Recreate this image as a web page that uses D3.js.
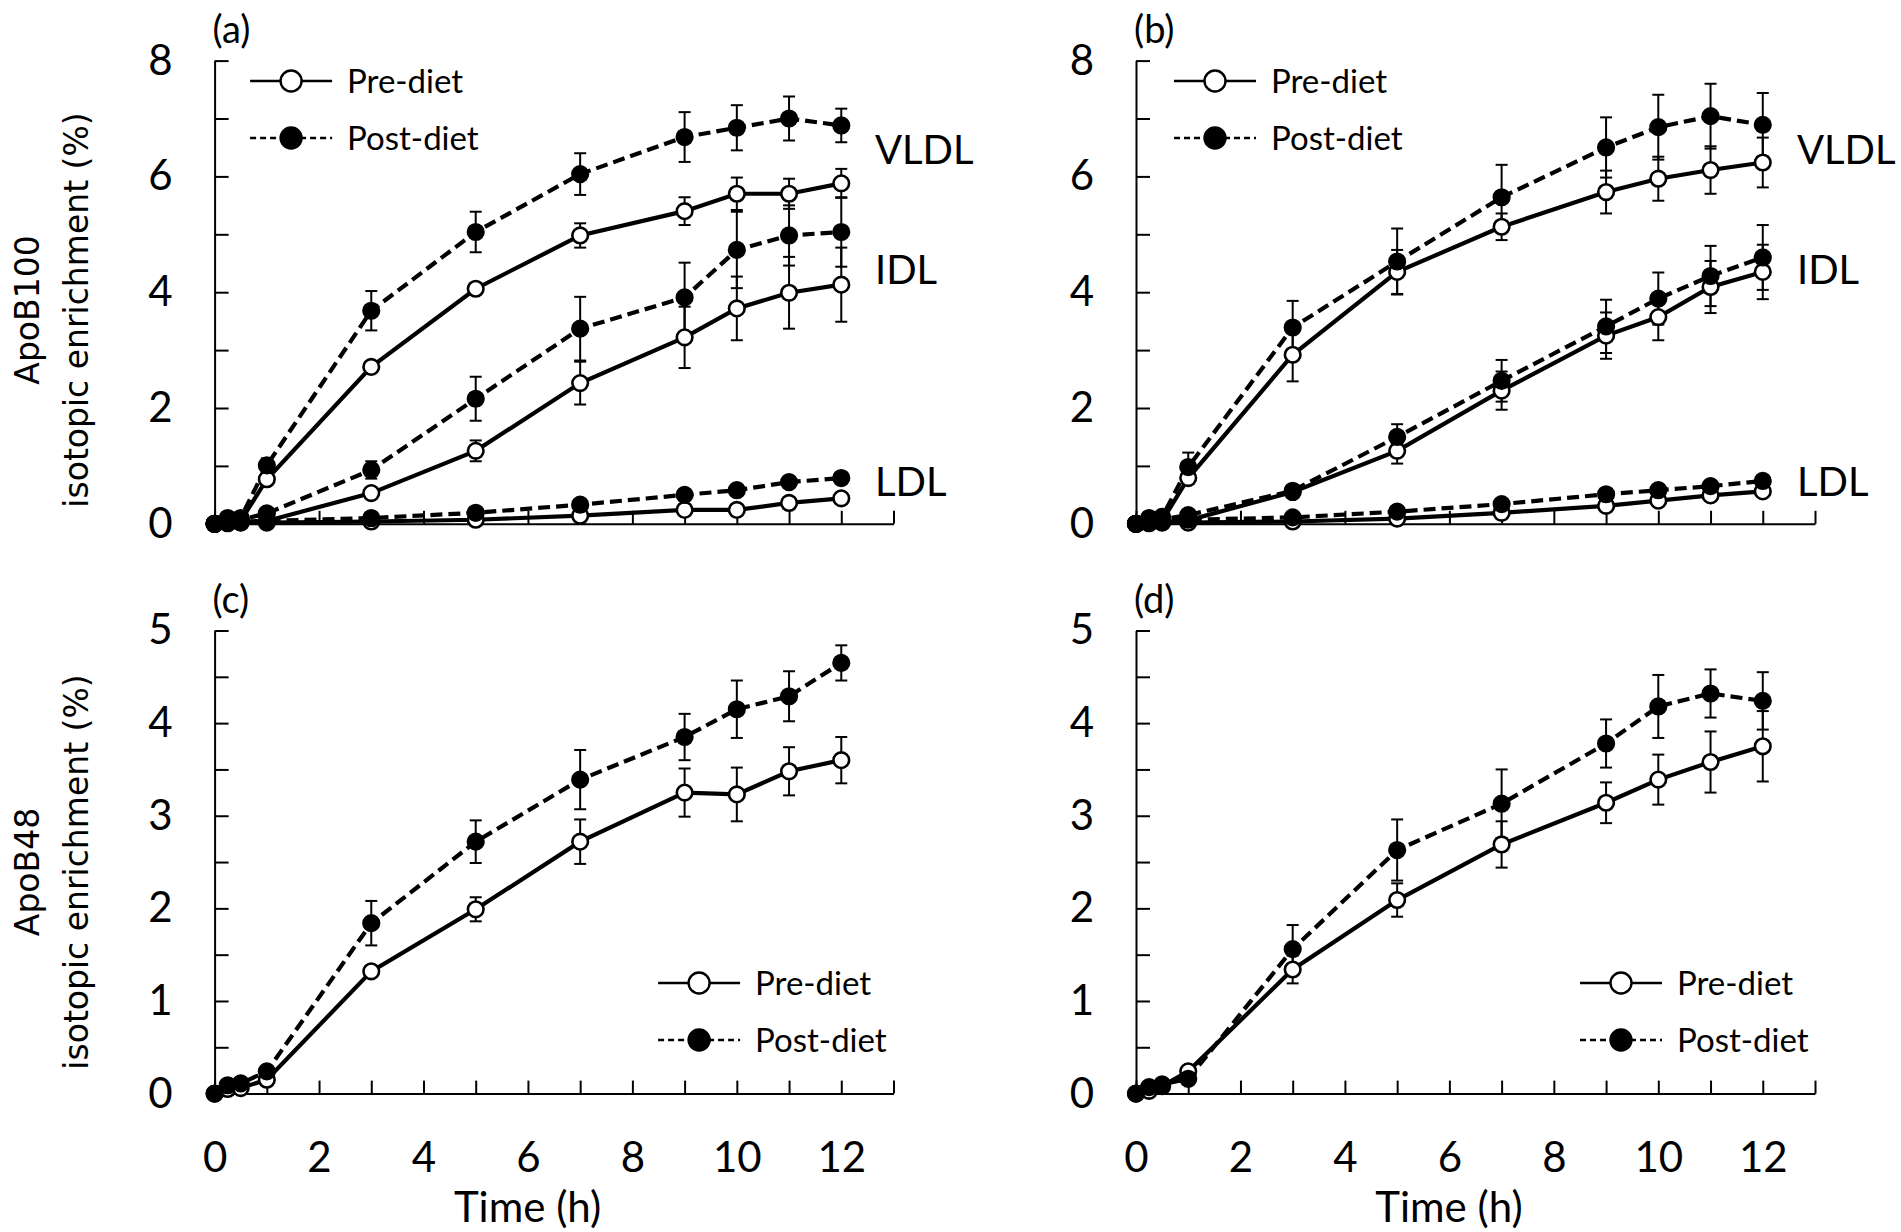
<!DOCTYPE html>
<html>
<head>
<meta charset="utf-8">
<script src="https://cdn.jsdelivr.net/npm/d3@7"></script>
<style>
body { margin: 0; background: #fff; }
svg { display: block; }
</style>
</head>
<body>
<svg id="chart" width="1901" height="1232"></svg>
<script>
// sampling times (h)
var hours = [0, 0.25, 0.5, 1, 3, 5, 7, 9, 10, 11, 12];

// (a) ApoB100, first group
var vldlPreA  = [0, 0.03, 0.05, 0.77, 2.71, 4.06, 4.98, 5.40, 5.70, 5.70, 5.88];
var vldlPreSdA = [0, 0, 0, 0.05, 0.05, 0.07, 0.21, 0.24, 0.28, 0.26, 0.25];
var vldlPostA = [0, 0.10, 0.10, 1.01, 3.68, 5.04, 6.04, 6.68, 6.84, 7.00, 6.88];
var vldlPostSdA = [0, 0, 0, 0.12, 0.34, 0.35, 0.36, 0.43, 0.39, 0.38, 0.29];
var idlPreA  = [0, 0.02, 0.03, 0.05, 0.53, 1.26, 2.43, 3.22, 3.72, 3.99, 4.13];
var idlPreSdA = [0, 0, 0, 0, 0.05, 0.18, 0.37, 0.53, 0.55, 0.62, 0.64];
var idlPostA = [0, 0.05, 0.07, 0.18, 0.93, 2.16, 3.37, 3.91, 4.73, 4.98, 5.04];
var idlPostSdA = [0, 0, 0, 0.04, 0.15, 0.38, 0.55, 0.60, 0.66, 0.52, 0.60];
var ldlPreA  = [0, 0.01, 0.02, 0.02, 0.04, 0.07, 0.14, 0.24, 0.24, 0.36, 0.44];
var ldlPreSdA = [0, 0, 0, 0, 0.02, 0.03, 0.04, 0.06, 0.06, 0.07, 0.07];
var ldlPostA = [0, 0.02, 0.03, 0.05, 0.10, 0.19, 0.33, 0.50, 0.58, 0.72, 0.79];
var ldlPostSdA = [0, 0, 0, 0, 0.03, 0.04, 0.05, 0.05, 0.05, 0.05, 0.05];

// (b) ApoB100, second group
var vldlPreB  = [0, 0.03, 0.05, 0.79, 2.92, 4.35, 5.13, 5.73, 5.96, 6.11, 6.24];
var vldlPreSdB = [0, 0, 0, 0.1, 0.46, 0.38, 0.23, 0.37, 0.38, 0.41, 0.43];
var vldlPostB = [0, 0.10, 0.12, 0.98, 3.39, 4.53, 5.64, 6.50, 6.85, 7.04, 6.89];
var vldlPostSdB = [0, 0, 0, 0.25, 0.46, 0.57, 0.56, 0.52, 0.56, 0.56, 0.55];
var idlPreB  = [0, 0.02, 0.03, 0.06, 0.55, 1.26, 2.30, 3.25, 3.57, 4.09, 4.35];
var idlPreSdB = [0, 0, 0, 0, 0.04, 0.22, 0.33, 0.40, 0.40, 0.45, 0.47];
var idlPostB = [0, 0.05, 0.08, 0.15, 0.57, 1.50, 2.47, 3.41, 3.89, 4.28, 4.60];
var idlPostSdB = [0, 0, 0, 0.04, 0.05, 0.22, 0.36, 0.46, 0.45, 0.52, 0.56];
var ldlPreB  = [0, 0.01, 0.02, 0.02, 0.04, 0.09, 0.19, 0.31, 0.40, 0.49, 0.56];
var ldlPreSdB = [0, 0, 0, 0, 0.02, 0.04, 0.05, 0.07, 0.08, 0.08, 0.09];
var ldlPostB = [0, 0.03, 0.04, 0.07, 0.11, 0.21, 0.34, 0.51, 0.58, 0.65, 0.74];
var ldlPostSdB = [0, 0, 0, 0, 0.03, 0.05, 0.06, 0.08, 0.09, 0.09, 0.1];

// (c) ApoB48, first group
var b48PreC  = [0, 0.05, 0.06, 0.15, 1.32, 1.99, 2.72, 3.25, 3.23, 3.48, 3.60];
var b48PreSdC = [0, 0, 0, 0.03, 0.03, 0.13, 0.24, 0.26, 0.29, 0.26, 0.25];
var b48PostC = [0, 0.09, 0.11, 0.24, 1.84, 2.72, 3.39, 3.85, 4.15, 4.29, 4.65];
var b48PostSdC = [0, 0, 0, 0.04, 0.24, 0.23, 0.32, 0.25, 0.31, 0.27, 0.19];

// (d) ApoB48, second group
var b48PreD  = [0, 0.03, 0.08, 0.24, 1.34, 2.09, 2.69, 3.14, 3.39, 3.58, 3.75];
var b48PreSdD = [0, 0, 0, 0.03, 0.15, 0.18, 0.25, 0.22, 0.27, 0.33, 0.38];
var b48PostD = [0, 0.07, 0.10, 0.16, 1.56, 2.63, 3.13, 3.78, 4.18, 4.32, 4.24];
var b48PostSdD = [0, 0, 0, 0.05, 0.26, 0.33, 0.37, 0.26, 0.34, 0.26, 0.31];

var xTicks = d3.range(0, 14);
var legendNames = ["Pre-diet", "Post-diet"];

var font = "Lato, 'Open Sans', sans-serif";
var titleFont = "'DejaVu Sans', Verdana, sans-serif";

function series(vals, sds, post) {
  return {post: post, pts: hours.map(function(h, i) { return {t: h, v: vals[i], e: sds[i]}; })};
}

var panels = [
  {tag: "(a)", x0: 214.6, x1: 893.5, y0: 523.8, y1: 60.6, ymax: 8, ystep: 1, labelStep: 2, xLabels: false,
   legend: {dx: 35.5, y: [81, 138]}, tagY: 43,
   title: ["ApoB100", "isotopic enrichment (%)"], titleY: 310,
   classes: [{name: "VLDL", y: 150}, {name: "IDL", y: 270}, {name: "LDL", y: 482}], classX: 875,
   lines: [series(vldlPreA, vldlPreSdA, false), series(vldlPostA, vldlPostSdA, true),
           series(idlPreA, idlPreSdA, false), series(idlPostA, idlPostSdA, true),
           series(ldlPreA, ldlPreSdA, false), series(ldlPostA, ldlPostSdA, true)]},
  {tag: "(b)", x0: 1136, x1: 1815, y0: 523.8, y1: 60.6, ymax: 8, ystep: 1, labelStep: 2, xLabels: false,
   legend: {dx: 38, y: [81, 138]}, tagY: 43,
   classes: [{name: "VLDL", y: 150}, {name: "IDL", y: 270}, {name: "LDL", y: 482}], classX: 1797,
   lines: [series(vldlPreB, vldlPreSdB, false), series(vldlPostB, vldlPostSdB, true),
           series(idlPreB, idlPreSdB, false), series(idlPostB, idlPostSdB, true),
           series(ldlPreB, ldlPreSdB, false), series(ldlPostB, ldlPostSdB, true)]},
  {tag: "(c)", x0: 214.6, x1: 893.5, y0: 1093.6, y1: 630.5, ymax: 5, ystep: 0.5, labelStep: 1, xLabels: true,
   legend: {dx: 443.5, y: [983, 1040]}, tagY: 613,
   title: ["ApoB48", "isotopic enrichment (%)"], titleY: 872,
   classes: [], lines: [series(b48PreC, b48PreSdC, false), series(b48PostC, b48PostSdC, true)]},
  {tag: "(d)", x0: 1136, x1: 1815, y0: 1093.6, y1: 630.5, ymax: 5, ystep: 0.5, labelStep: 1, xLabels: true,
   legend: {dx: 444, y: [983, 1040]}, tagY: 613,
   classes: [], lines: [series(b48PreD, b48PreSdD, false), series(b48PostD, b48PostSdD, true)]}
];

var svg = d3.select("#chart");

panels.forEach(function(p) {
  var x = d3.scaleLinear().domain([0, 13]).range([p.x0, p.x1]);
  var y = d3.scaleLinear().domain([0, p.ymax]).range([p.y0, p.y1]);
  var g = svg.append("g");

  // axes
  var xAxis = d3.axisBottom(x)
    .tickValues(xTicks)
    .tickSize(-13).tickSizeOuter(0).tickPadding(49)
    .tickFormat(function(d) { return (p.xLabels && d % 2 === 0 && d <= 12) ? d : ""; });
  var yTicks = d3.range(0, p.ymax + 0.001, p.ystep);
  var yAxis = d3.axisLeft(y)
    .tickValues(yTicks)
    .tickSize(-14).tickSizeOuter(0).tickPadding(42)
    .tickFormat(function(d) { return Math.abs(d / p.labelStep - Math.round(d / p.labelStep)) < 1e-6 ? d : ""; });

  [g.append("g").attr("transform", "translate(0," + p.y0 + ")").call(xAxis),
   g.append("g").attr("transform", "translate(" + p.x0 + ",0)").call(yAxis)].forEach(function(a) {
    a.select(".domain").attr("stroke", "#000").attr("stroke-width", 2);
    a.selectAll(".tick line").attr("stroke", "#000").attr("stroke-width", 2);
    a.selectAll(".tick text").attr("font-family", font).attr("font-size", 42).attr("fill", "#000");
  });

  var line = d3.line().x(function(d) { return x(d.t); }).y(function(d) { return y(d.v); });

  // connecting lines
  g.selectAll("path.series").data(p.lines).join("path")
    .attr("class", "series")
    .attr("d", function(s) { return line(s.pts); })
    .attr("fill", "none").attr("stroke", "#000").attr("stroke-width", 4.2)
    .attr("stroke-dasharray", function(s) { return s.post ? "12,6" : null; });

  // error bars
  p.lines.forEach(function(s) {
    var pts = s.pts.filter(function(d) { return d.e > 0; });
    var eb = g.append("g").attr("stroke", "#000").attr("stroke-width", 2);
    eb.selectAll("line.v").data(pts).join("line").attr("class", "v")
      .attr("x1", function(d) { return x(d.t); }).attr("x2", function(d) { return x(d.t); })
      .attr("y1", function(d) { return y(d.v - d.e); }).attr("y2", function(d) { return y(d.v + d.e); });
    [-1, 1].forEach(function(sign) {
      eb.selectAll("line.c" + sign).data(pts).join("line")
        .attr("x1", function(d) { return x(d.t) - 6; }).attr("x2", function(d) { return x(d.t) + 6; })
        .attr("y1", function(d) { return y(d.v + sign * d.e); }).attr("y2", function(d) { return y(d.v + sign * d.e); });
    });
  });

  // markers
  p.lines.forEach(function(s) {
    g.append("g").selectAll("circle").data(s.pts).join("circle")
      .attr("cx", function(d) { return x(d.t); }).attr("cy", function(d) { return y(d.v); })
      .attr("r", 7.8)
      .attr("fill", s.post ? "#000" : "#fff")
      .attr("stroke", "#000").attr("stroke-width", 2.6);
  });

  // legend
  legendNames.forEach(function(name, i) {
    var lx = p.x0 + p.legend.dx, ly = p.legend.y[i];
    g.append("line").attr("x1", lx).attr("x2", lx + 82).attr("y1", ly).attr("y2", ly)
      .attr("stroke", "#000").attr("stroke-width", 2.4)
      .attr("stroke-dasharray", i ? "6,4" : null);
    g.append("circle").attr("cx", lx + 41).attr("cy", ly).attr("r", 10.5)
      .attr("fill", i ? "#000" : "#fff").attr("stroke", "#000").attr("stroke-width", 2.4);
    g.append("text").attr("x", lx + 97).attr("y", ly).attr("dy", "0.35em")
      .attr("font-family", font).attr("font-size", 33).text(name);
  });

  // panel tag
  g.append("text").attr("x", p.x0 - 2).attr("y", p.tagY)
    .attr("font-family", font).attr("font-size", 38).text(p.tag);

  // lipoprotein class labels
  p.classes.forEach(function(c) {
    g.append("text").attr("x", p.classX).attr("y", c.y).attr("dy", "0.36em")
      .attr("font-family", font).attr("font-size", 40).text(c.name);
  });

  // x axis title
  if (p.xLabels) {
    g.append("text").attr("x", p.x0 + 313).attr("y", 1222).attr("text-anchor", "middle")
      .attr("font-family", font).attr("font-size", 42).text("Time (h)");
  }

  // y axis title
  if (p.title) {
    [39, 88].forEach(function(bx, i) {
      g.append("text").attr("transform", "translate(" + bx + "," + p.titleY + ") rotate(-90)")
        .attr("text-anchor", "middle")
        .attr("font-family", titleFont).attr("font-size", 33).text(p.title[i]);
    });
  }
});
</script>
</body>
</html>
